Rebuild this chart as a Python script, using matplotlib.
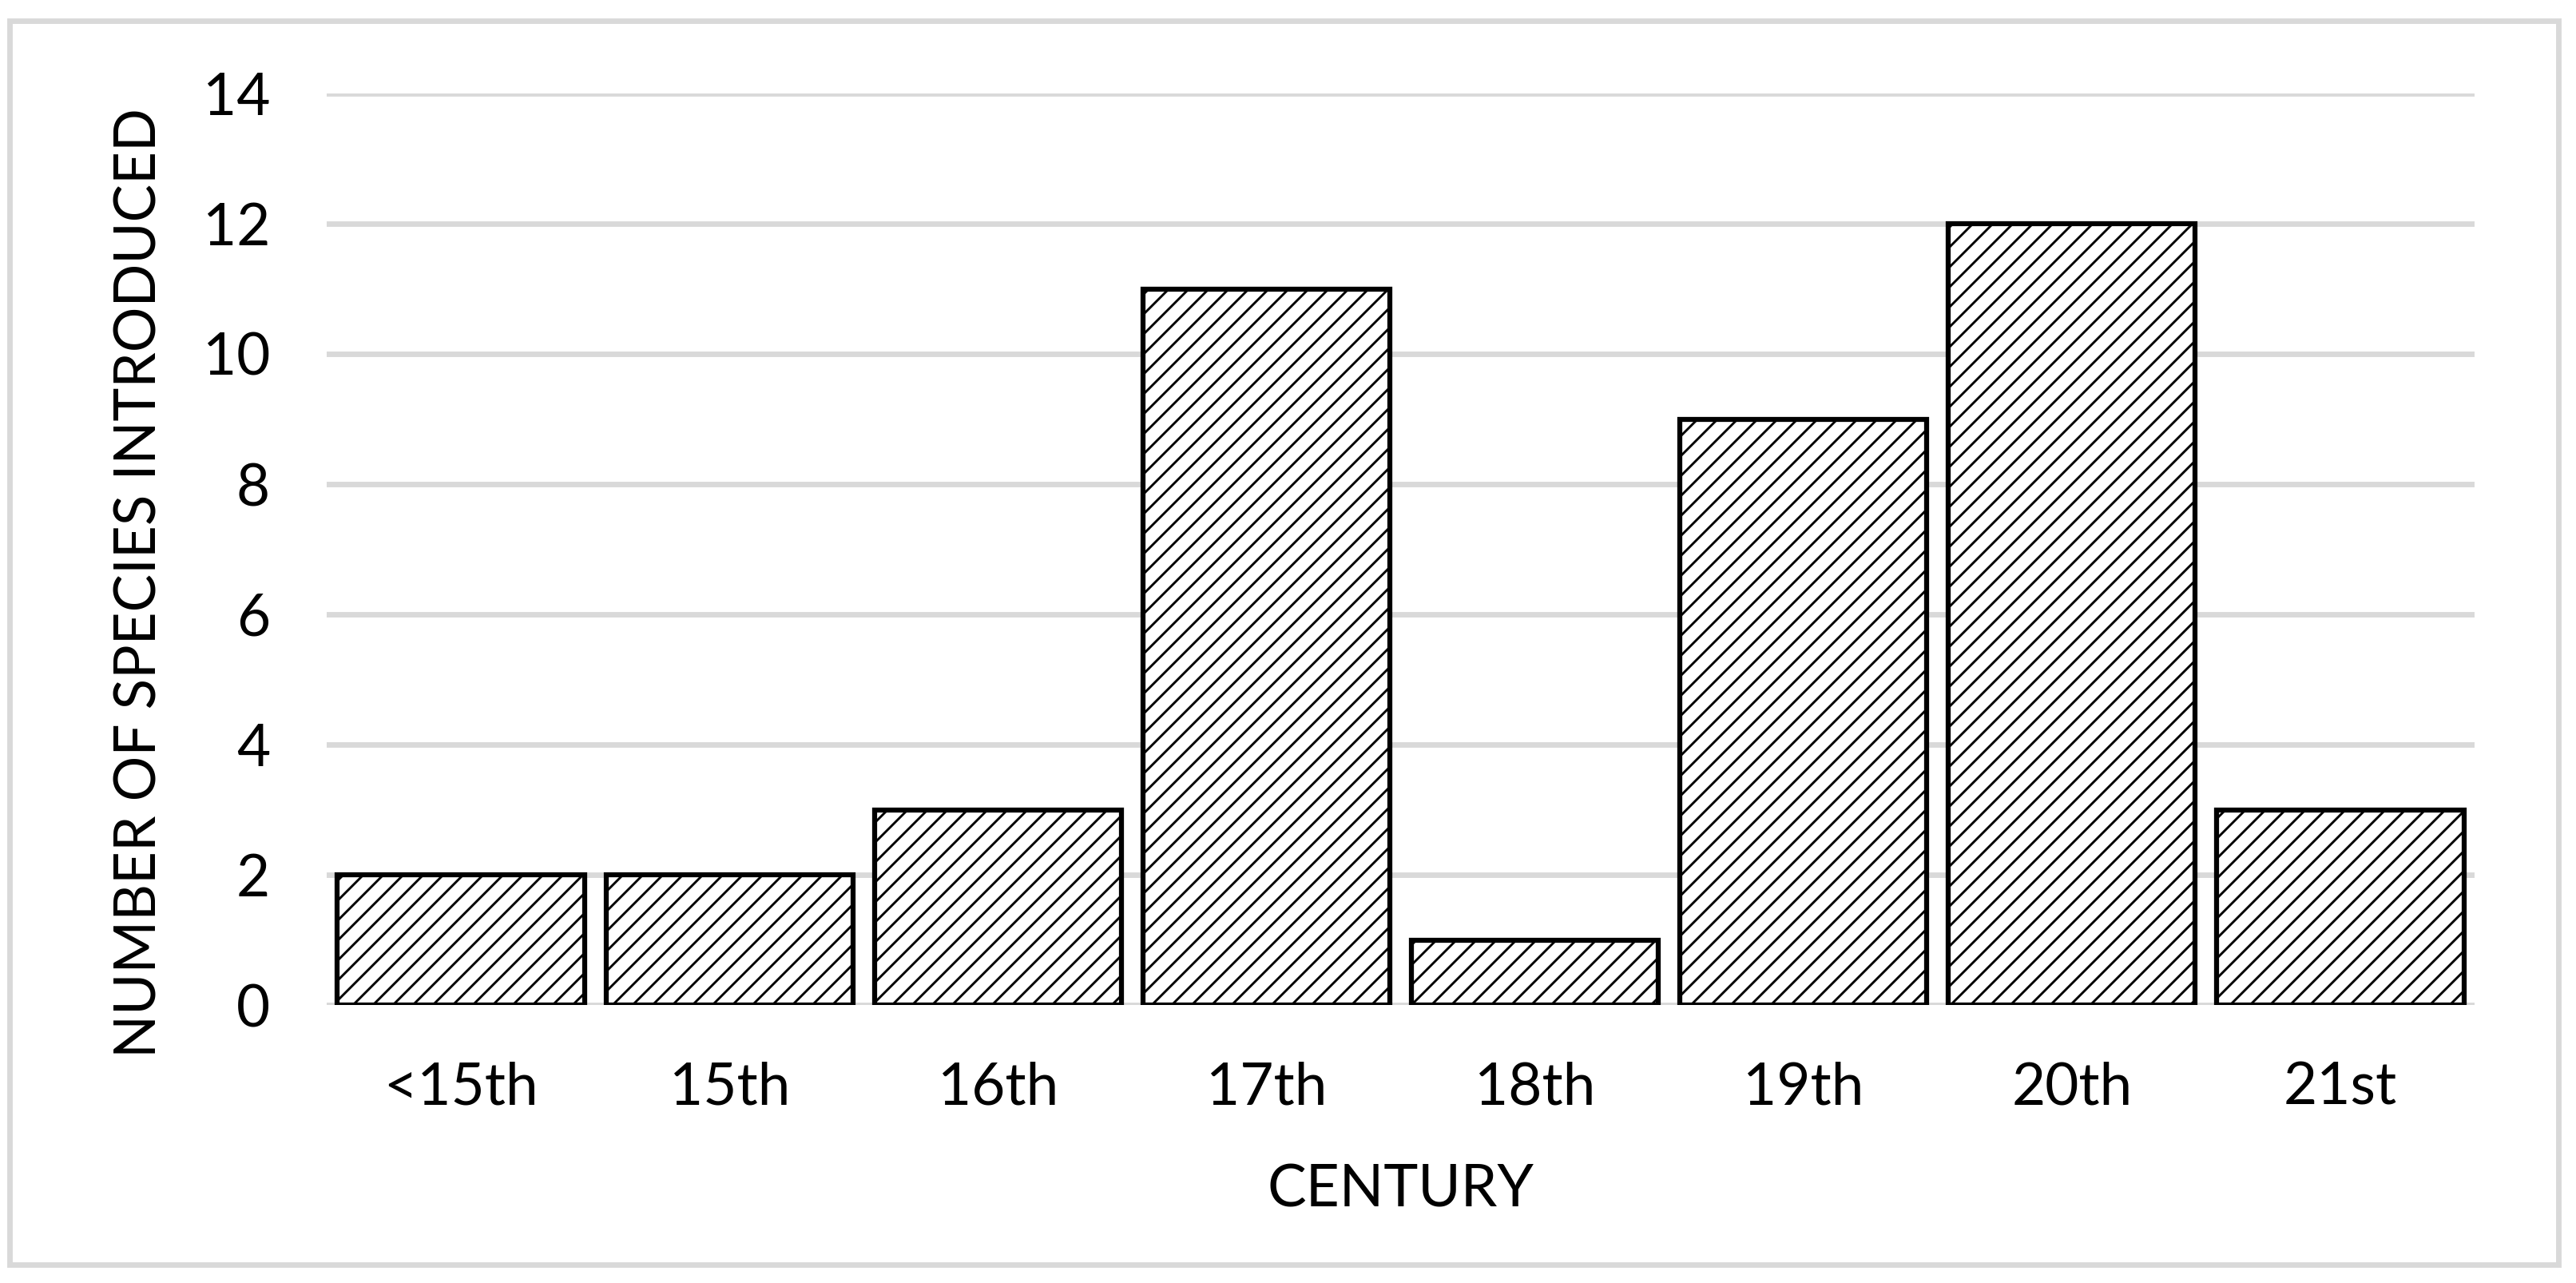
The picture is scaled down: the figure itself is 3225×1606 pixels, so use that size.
import matplotlib
matplotlib.use('Agg')
import matplotlib.pyplot as plt
from matplotlib.patches import Rectangle

centuries = ['<15th', '15th', '16th', '17th', '18th', '19th', '20th', '21st']
species = [2, 2, 3, 11, 1, 9, 12, 3]
yticks = [0, 2, 4, 6, 8, 10, 12, 14]

plt.rcParams['font.family'] = ['Lato', 'DejaVu Sans']
plt.rcParams['hatch.linewidth'] = 1.4
plt.rcParams['hatch.color'] = 'black'

dpi = 150
fig = plt.figure(figsize=(3225 / dpi, 1606 / dpi), dpi=dpi)
ax = fig.add_axes([409 / 3225, 1 - 1258 / 1606, (3098 - 409) / 3225, (1258 - 117) / 1606])

# grid under bars
ax.set_axisbelow(True)
ax.yaxis.grid(True, color='#d9d9d9', linewidth=3.3)
ax.bar(range(len(centuries)), species, width=0.92, color='white',
       edgecolor='black', linewidth=3.0, hatch='//', zorder=3)

ax.set_xlim(-0.5, len(centuries) - 0.5)
ax.set_ylim(0, 14)
ax.set_yticks(yticks)
ax.set_xticks(range(len(centuries)))
ax.set_xticklabels(centuries)
ax.tick_params(axis='both', length=0, labelsize=35)
ax.tick_params(axis='y', pad=34)
ax.tick_params(axis='x', pad=34)
for s in ax.spines.values():
    s.set_visible(False)

ax.set_ylabel('NUMBER OF SPECIES INTRODUCED', fontsize=34, va='center')
ax.yaxis.set_label_coords((175 - 409) / (3098 - 409), 0.463)
ax.set_xlabel('CENTURY', fontsize=35, va='center')
ax.xaxis.set_label_coords(0.5, -(1490 - 1258) / (1258 - 117))

# light outer frame
fig.patches.append(Rectangle((12 / 3225, 1 - 1583 / 1606), (3203 - 12) / 3225, (1583 - 26) / 1606,
                             transform=fig.transFigure, fill=False,
                             edgecolor='#d9d9d9', linewidth=3.3))

fig.savefig('out.png', dpi=dpi)
